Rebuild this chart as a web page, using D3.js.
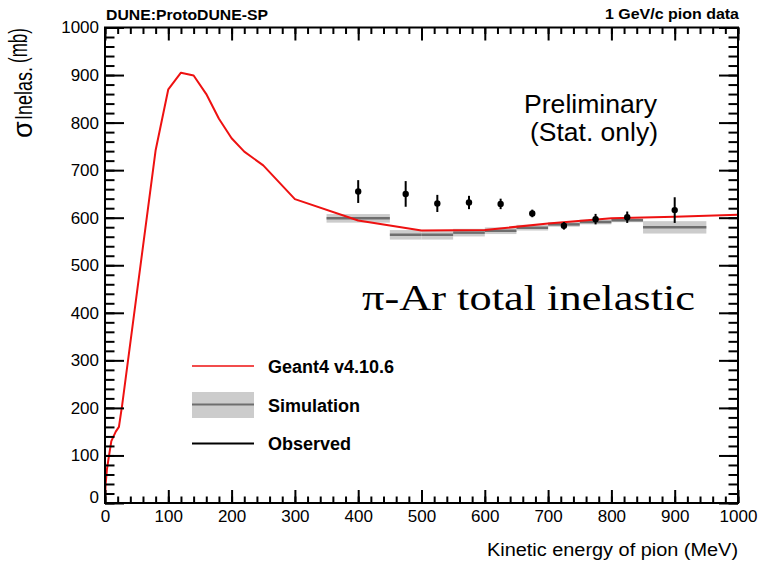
<!DOCTYPE html>
<html>
<head>
<meta charset="utf-8">
<script src="https://cdn.jsdelivr.net/npm/d3@7"></script>
<style>
  html, body { margin: 0; padding: 0; background: #fff; }
  svg { display: block; }
  text { fill: #000; }
</style>
</head>
<body>
<svg id="chart" width="763" height="562"></svg>
<script>
// Geant4 v4.10.6 prediction of the pi-Ar total inelastic cross section
const g4Energy = [0, 1, 3, 5, 10, 17, 22, 27, 80, 100, 120, 140, 160, 180, 200, 220, 250, 300, 400, 500, 600, 700, 800, 900, 1000];
const g4Xsec   = [0, 40, 70, 88, 130, 150, 160, 205, 742, 870, 905, 899, 860, 808, 767, 739, 710, 639, 594, 573, 574, 588, 599, 602, 606];

// Simulation: bin edges, central value and statistical band half-width
const simLow  = [350, 450, 500, 550, 600, 650, 700, 750, 800, 850];
const simHigh = [450, 500, 550, 600, 650, 700, 750, 800, 850, 950];
const simXsec = [598.6, 564, 564, 568.6, 572.6, 579, 586, 591, 594.5, 579.7];
const simErr  = [9, 10, 10, 8, 7, 6, 5, 5, 4, 13];

// Observed data points with statistical errors
const obsEnergy = [400, 475, 525, 575, 625, 675, 725, 775, 825, 900];
const obsXsec   = [655, 650, 630, 632, 629, 609, 583, 597, 601, 616];
const obsErr    = [24, 27, 18, 14, 11, 8, 8, 11, 12, 27];

// Axis tick values
const xMajor = d3.range(0, 1001, 100);
const yMajor = d3.range(0, 1001, 100);
const minor  = d3.range(0, 1001, 20);

const SANS = "'Liberation Sans', Arial, Helvetica, sans-serif";
const SERIF = "'Liberation Serif', 'Times New Roman', serif";

const svg = d3.select("#chart").style("font-family", SANS);
const x = d3.scaleLinear().domain([0, 1000]).range([105, 738]);
const y = d3.scaleLinear().domain([0, 1000]).range([503, 27.5]);

const X0 = x.range()[0], X1 = x.range()[1];
const Y0 = y.range()[0], Y1 = y.range()[1];

// ---- simulation bands ----
const sim = svg.append("g");
simLow.forEach((lo, i) => {
  sim.append("rect")
    .attr("x", x(lo)).attr("width", x(simHigh[i]) - x(lo))
    .attr("y", y(simXsec[i] + simErr[i]))
    .attr("height", y(simXsec[i] - simErr[i]) - y(simXsec[i] + simErr[i]))
    .attr("fill", "#cccccc");
});
simLow.forEach((lo, i) => {
  sim.append("line")
    .attr("x1", x(lo)).attr("x2", x(simHigh[i]))
    .attr("y1", y(simXsec[i])).attr("y2", y(simXsec[i]))
    .attr("stroke", "#6e6e6e").attr("stroke-width", 2.5);
});

// ---- Geant4 curve ----
const g4 = g4Energy.map((e, i) => [e, g4Xsec[i]]);
svg.append("path")
  .datum(g4)
  .attr("fill", "none")
  .attr("stroke", "#ee1111")
  .attr("stroke-width", 2)
  .attr("stroke-linejoin", "round")
  .attr("d", d3.line().x(d => x(d[0])).y(d => y(d[1])));

// ---- observed points ----
const obs = svg.append("g");
obsEnergy.forEach((e, i) => {
  obs.append("line")
    .attr("x1", x(e)).attr("x2", x(e))
    .attr("y1", y(obsXsec[i] - obsErr[i])).attr("y2", y(obsXsec[i] + obsErr[i]))
    .attr("stroke", "#000").attr("stroke-width", 2);
  obs.append("circle")
    .attr("cx", x(e)).attr("cy", y(obsXsec[i])).attr("r", 3.2)
    .attr("fill", "#000");
});

// ---- axes (ticks point inward) ----
const fmtNone = () => "";
function styleAxis(g) {
  g.select(".domain").remove();
  g.selectAll(".tick line").attr("stroke", "#000").attr("stroke-width", 2);
  g.selectAll(".tick text").attr("font-size", 17).style("font-family", SANS);
}
// bottom
svg.append("g").attr("transform", `translate(0,${Y0})`)
  .call(d3.axisBottom(x).tickValues(minor).tickSizeInner(-6.5).tickSizeOuter(0).tickFormat(fmtNone)).call(styleAxis);
svg.append("g").attr("transform", `translate(0,${Y0})`)
  .call(d3.axisBottom(x).tickValues(xMajor).tickSizeInner(-13).tickSizeOuter(0).tickPadding(7).tickFormat(d3.format("d"))).call(styleAxis);
// top
svg.append("g").attr("transform", `translate(0,${Y1})`)
  .call(d3.axisTop(x).tickValues(minor).tickSizeInner(-6.5).tickSizeOuter(0).tickFormat(fmtNone)).call(styleAxis);
svg.append("g").attr("transform", `translate(0,${Y1})`)
  .call(d3.axisTop(x).tickValues(xMajor).tickSizeInner(-13).tickSizeOuter(0).tickFormat(fmtNone)).call(styleAxis);
// left
svg.append("g").attr("transform", `translate(${X0},0)`)
  .call(d3.axisLeft(y).tickValues(minor).tickSizeInner(-9.5).tickSizeOuter(0).tickFormat(fmtNone)).call(styleAxis);
const yAx = svg.append("g").attr("transform", `translate(${X0},0)`)
  .call(d3.axisLeft(y).tickValues(yMajor).tickSizeInner(-19).tickSizeOuter(0).tickPadding(6).tickFormat(d3.format("d"))).call(styleAxis);
yAx.selectAll(".tick").filter(d => d === 0).select("text").attr("dy", "-0.05em");
// right
svg.append("g").attr("transform", `translate(${X1},0)`)
  .call(d3.axisRight(y).tickValues(minor).tickSizeInner(-9.5).tickSizeOuter(0).tickFormat(fmtNone)).call(styleAxis);
svg.append("g").attr("transform", `translate(${X1},0)`)
  .call(d3.axisRight(y).tickValues(yMajor).tickSizeInner(-19).tickSizeOuter(0).tickFormat(fmtNone)).call(styleAxis);

// frame
svg.append("rect")
  .attr("x", X0).attr("y", Y1).attr("width", X1 - X0).attr("height", Y0 - Y1)
  .attr("fill", "none").attr("stroke", "#000").attr("stroke-width", 2);

// ---- titles and labels ----
function fitText(sel, len) {
  return sel.attr("textLength", len).attr("lengthAdjust", "spacingAndGlyphs");
}
fitText(svg.append("text").attr("x", X0 + 1).attr("y", 20)
  .attr("font-size", 14.5).attr("font-weight", "bold").text("DUNE:ProtoDUNE-SP"), 162);
fitText(svg.append("text").attr("x", 605).attr("y", 19)
  .attr("font-size", 14.5).attr("font-weight", "bold").text("1 GeV/c pion data"), 134);

fitText(svg.append("text").attr("x", 487).attr("y", 556)
  .attr("font-size", 18).text("Kinetic energy of pion (MeV)"), 251);

// y title: sigma with "Inelas." subscript and unit, rotated (reads bottom to top)
const yl = svg.append("text")
  .attr("transform", "translate(0,138) rotate(-90)");
yl.append("tspan").attr("x", 0).attr("y", 32).attr("font-size", 27).text("σ");
yl.append("tspan").attr("x", 18).attr("y", 32).attr("font-size", 23)
  .attr("textLength", 53).attr("lengthAdjust", "spacingAndGlyphs").text("Inelas.");
yl.append("tspan").attr("x", 75).attr("y", 27).attr("font-size", 26)
  .attr("textLength", 35).attr("lengthAdjust", "spacingAndGlyphs").text("(mb)");

fitText(svg.append("text").attr("x", 524).attr("y", 113)
  .attr("font-size", 25).text("Preliminary"), 133);
fitText(svg.append("text").attr("x", 530).attr("y", 141)
  .attr("font-size", 25).text("(Stat. only)"), 128);

fitText(svg.append("text").attr("x", 362).attr("y", 310)
  .style("font-family", SERIF)
  .attr("font-size", 36).text("π-Ar total inelastic"), 333);

// ---- legend ----
const leg = svg.append("g");
const lx0 = 192, lx1 = 254, tx = 268;
leg.append("line").attr("x1", lx0).attr("x2", lx1).attr("y1", 366).attr("y2", 366)
  .attr("stroke", "#ee1111").attr("stroke-width", 1.5);
leg.append("text").attr("x", tx).attr("y", 373).attr("font-size", 18).attr("font-weight", "bold").text("Geant4 v4.10.6");
leg.append("rect").attr("x", lx0).attr("y", 392).attr("width", lx1 - lx0).attr("height", 26).attr("fill", "#cccccc");
leg.append("line").attr("x1", lx0).attr("x2", lx1).attr("y1", 404.5).attr("y2", 404.5)
  .attr("stroke", "#6e6e6e").attr("stroke-width", 2);
leg.append("text").attr("x", tx).attr("y", 412).attr("font-size", 18).attr("font-weight", "bold").text("Simulation");
leg.append("line").attr("x1", lx0).attr("x2", lx1).attr("y1", 443.5).attr("y2", 443.5)
  .attr("stroke", "#000").attr("stroke-width", 2);
leg.append("text").attr("x", tx).attr("y", 450).attr("font-size", 18).attr("font-weight", "bold").text("Observed");
</script>
</body>
</html>
